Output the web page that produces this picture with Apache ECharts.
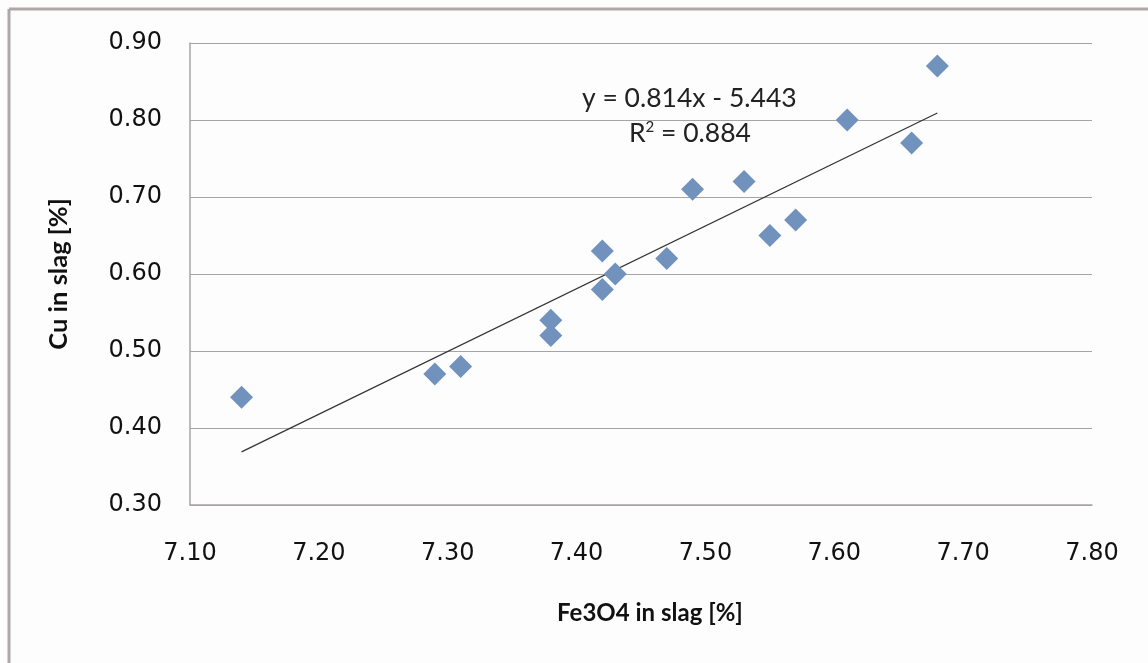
<!DOCTYPE html>
<html>
<head>
<meta charset="utf-8">
<script src="https://cdn.jsdelivr.net/npm/echarts@6/dist/echarts.min.js"></script>
<style>
  html, body { margin: 0; padding: 0; background: #fdfdfd; }
  #chart { width: 1148px; height: 663px; }
</style>
</head>
<body>
<div id="chart"></div>
<script>
// measured points: Fe3O4 vs Cu in slag
const fe3o4 = [7.14, 7.29, 7.31, 7.38, 7.38, 7.42, 7.42, 7.43, 7.47, 7.49, 7.53, 7.55, 7.57, 7.61, 7.66, 7.68];
const cu    = [0.44, 0.47, 0.48, 0.54, 0.52, 0.63, 0.58, 0.60, 0.62, 0.71, 0.72, 0.65, 0.67, 0.80, 0.77, 0.87];
// linear trendline ends (as drawn)
const trendX = [7.14, 7.68];
const trendY = [0.369, 0.809];
const eqText = 'y = 0.814x - 5.443';
const r2Value = '0.884';

const chart = echarts.init(document.getElementById('chart'));

let points = []
for (let i = 0; i < fe3o4.length; i++) {
  points.push([fe3o4[i], cu[i]])
}
let trend = trendX.map((x, i) => [x, trendY[i]])

const axisFont = 'DejaVu Sans'
const titleFont = 'Lato, "Open Sans", sans-serif'

chart.setOption({
  backgroundColor: '#fdfdfd',
  animation: false,
  grid: { left: 190, top: 43, width: 902, height: 462 },
  xAxis: {
    type: 'value',
    min: 7.1, max: 7.8, interval: 0.1,
    name: 'Fe3O4 in slag [%]',
    nameLocation: 'middle',
    nameGap: 96,
    nameTextStyle: { fontFamily: titleFont, fontWeight: 'bold', fontSize: 24, color: '#111', padding: [0, 0, 0, 18] },
    axisLine: { lineStyle: { color: '#a8a4a4', width: 1.5 } },
    axisTick: { show: false },
    axisLabel: {
      fontFamily: axisFont, fontSize: 24, color: '#111', margin: 37,
      formatter: v => v.toFixed(2)
    },
    splitLine: { show: false }
  },
  yAxis: {
    type: 'value',
    min: 0.3, max: 0.9, interval: 0.1,
    name: 'Cu in slag [%]',
    nameLocation: 'middle',
    nameGap: 118,
    nameTextStyle: { fontFamily: titleFont, fontWeight: 'bold', fontSize: 25.5, color: '#111' },
    axisLine: { show: true, lineStyle: { color: '#a8a4a4', width: 1.5 } },
    axisTick: { show: false },
    axisLabel: {
      fontFamily: axisFont, fontSize: 24, color: '#111', margin: 28,
      formatter: v => v.toFixed(2)
    },
    splitLine: { lineStyle: { color: '#a8a4a4', width: 1.2 } }
  },
  graphic: [
    { type: 'line', shape: { x1: 9, y1: 9, x2: 1148, y2: 9 }, style: { stroke: '#b0a8a8', lineWidth: 3 } },
    { type: 'line', shape: { x1: 9, y1: 9, x2: 9, y2: 663 }, style: { stroke: '#b0a8a8', lineWidth: 3 } },
    {
      type: 'text', left: 582, top: 85,
      style: { text: eqText, font: '26.5px Lato, sans-serif', fill: '#222' }
    },
    {
      type: 'text', left: 629, top: 120,
      style: {
        text: '{r|R}{s|2}{r| = ' + r2Value + '}',
        rich: {
          r: { font: '26.5px Lato, sans-serif', fill: '#222' },
          s: { font: '15px Lato, sans-serif', fill: '#222', verticalAlign: 'top', padding: [0, 0, 11, 0] }
        }
      }
    }
  ],
  series: [
    {
      type: 'line',
      data: trend,
      symbol: 'none',
      lineStyle: { color: '#333', width: 1.2 },
      z: 2
    },
    {
      type: 'scatter',
      data: points,
      symbol: 'diamond',
      symbolSize: [23, 23],
      itemStyle: { color: '#7192bd', opacity: 1 },
      z: 3
    }
  ]
});
</script>
</body>
</html>
